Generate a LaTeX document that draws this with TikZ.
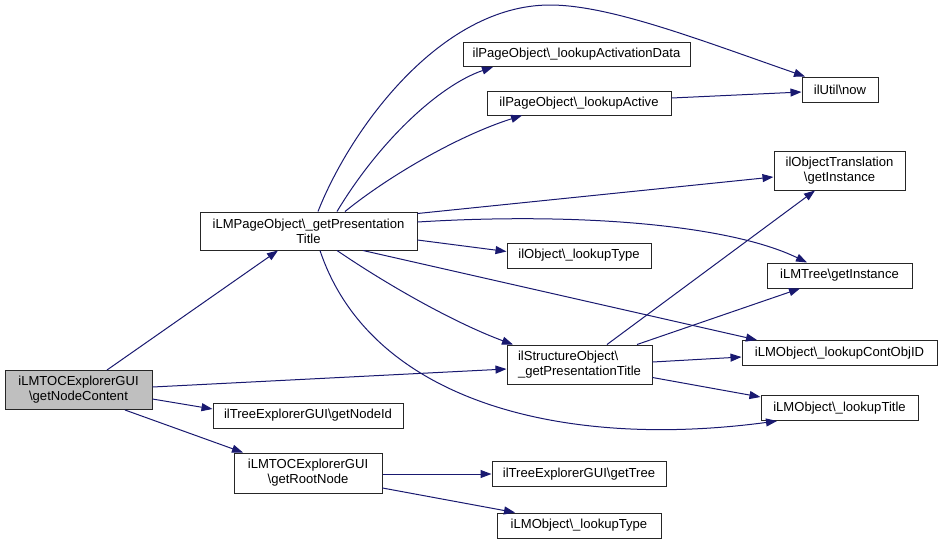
\documentclass[tikz,border=0pt]{standalone}
\usepackage{fontspec}
\setmainfont{Liberation Sans}
\usetikzlibrary{arrows.meta,calc}
\definecolor{edgec}{HTML}{191970}
\definecolor{rootfill}{HTML}{BFBFBF}
\begin{document}
\begin{tikzpicture}[x=0.75pt,y=-0.75pt,
  box/.style={draw=black!85, line width=0.75pt, fill=white, inner sep=0pt,
    font=\fontsize{9.8}{11.2}\selectfont, align=center, minimum height=18.75pt},
  box2/.style={box, minimum height=29.25pt},
  edge/.style={draw=edgec, line width=0.75pt, -{Triangle[length=8.25pt,width=6pt]}}
]
\useasboundingbox (0,0) rectangle (943,544);

\node[box2, fill=rootfill, minimum width=110.25pt] (A) at (78.5,390) {iLMTOCExplorerGUI\\\textbackslash getNodeContent};
\node[box2, minimum width=162.75pt, minimum height=28.5pt] (B) at (308.5,231) {iLMPageObject\textbackslash\_getPresentation\\Title};
\node[box, minimum width=170.25pt, minimum height=18pt] (C) at (576.5,54.5) {ilPageObject\textbackslash\_lookupActivationData};
\node[box, minimum width=138pt, minimum height=18pt] (D) at (579,103) {ilPageObject\textbackslash\_lookupActive};
\node[box, minimum width=57pt] (E) at (840,89.5) {ilUtil\textbackslash now};
\node[box2, minimum width=98.25pt] (F) at (839.5,170.5) {ilObjectTranslation\\\textbackslash getInstance};
\node[box, minimum width=108pt] (G) at (579,255.5) {ilObject\textbackslash\_lookupType};
\node[box, minimum width=108.75pt] (H) at (839.5,275.5) {iLMTree\textbackslash getInstance};
\node[box2, minimum width=108.75pt, align=left] (I) at (579.5,364.5) {ilStructureObject\textbackslash\\\_getPresentationTitle};
\node[box, minimum width=146.25pt] (J) at (839.5,353) {iLMObject\textbackslash\_lookupContObjID};
\node[box, minimum width=117.75pt] (K) at (839.5,408) {iLMObject\textbackslash\_lookupTitle};
\node[box, minimum width=142.5pt] (L) at (308,415.5) {ilTreeExplorerGUI\textbackslash getNodeId};
\node[box2, minimum width=111pt, minimum height=30pt] (M) at (308,473) {iLMTOCExplorerGUI\\\textbackslash getRootNode};
\node[box, minimum width=130.5pt] (N) at (579,474) {ilTreeExplorerGUI\textbackslash getTree};
\node[box, minimum width=123pt] (O) at (579,525.5) {iLMObject\textbackslash\_lookupType};

% edges from the root
\draw[edge] ($(A.north)+(28.5,0)$) -- ($(B.south)+(-30.5,0)$);
\draw[edge] ($(A.east)+(0,-3)$) -- ($(I.west)+(0,4.5)$);
\draw[edge] ($(A.east)+(0,9)$) -- ($(L.west)+(0,-6.5)$);
\draw[edge] ($(A.south)+(46.5,0)$) -- ($(M.north)+(-65,0)$);

% edges from B
\draw[edge] ($(B.north)+(28.5,0)$) .. controls (380,140) and (440,85) .. ($(C.south)+(-83.5,0)$);
\draw[edge] ($(B.north)+(36.5,0)$) .. controls (390,175) and (460,135) .. ($(D.south)+(-57,0)$);
\draw[edge] ($(B.north)+(9.5,0)$) .. controls (350,130) and (440,5) .. (550,5)
  .. controls (610,5) and (700,40) .. ($(E.north)+(-35,0)$);
\draw[edge] ($(B.north east)+(0,2)$) -- ($(F.west)+(0,6.5)$);
\draw[edge] ($(B.east)+(0,-9)$) .. controls (580,212) and (730,225) .. ($(H.north)+(-32.5,0)$);
\draw[edge] ($(B.east)+(0,9)$) -- ($(G.west)+(0,-4)$);
\draw[edge] ($(B.south)+(28.5,0)$) .. controls (395,290) and (460,325) .. ($(I.north)+(-66.5,0)$);
\draw[edge] ($(B.south)+(54.5,0)$) -- ($(J.north)+(-82.5,0)$);
\draw[edge] ($(B.south)+(11.5,0)$) .. controls (370,400) and (560,450) .. ($(K.south)+(-62.5,0)$);

% edges from I
\draw[edge] ($(I.north)+(27.5,0)$) -- ($(F.south)+(-24.5,0)$);
\draw[edge] ($(I.north)+(57.5,0)$) -- ($(H.south)+(-39.5,0)$);
\draw[edge] ($(I.east)+(0,-2.5)$) -- ($(J.west)+(0,4)$);
\draw[edge] ($(I.east)+(0,13)$) -- ($(K.west)+(0,-11)$);

% other edges
\draw[edge] ($(D.east)+(0,-5)$) -- ($(E.west)+(0,2.5)$);
\draw[edge] ($(M.east)+(0,1)$) -- (N.west);
\draw[edge] ($(M.east)+(0,15)$) -- ($(O.north)+(-64,0)$);
\end{tikzpicture}
\end{document}
